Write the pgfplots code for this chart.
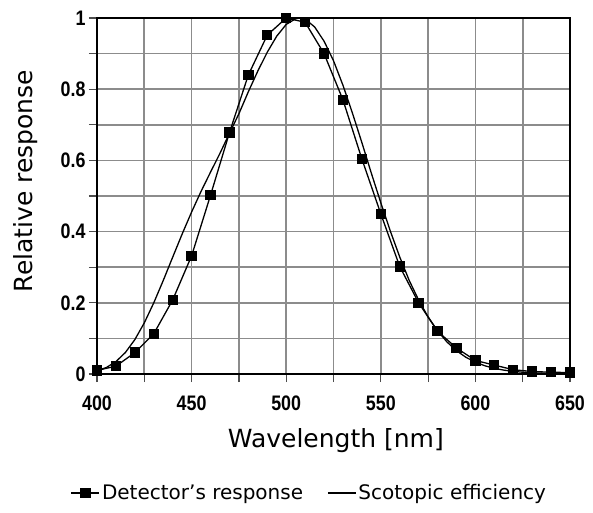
\documentclass[border=0pt]{standalone}
\usepackage{fontspec}
\setmainfont{DejaVu Sans}
\newfontfamily\tickfont{Liberation Sans Bold}[FakeStretch=0.85]
\usepackage{pgfplots}
\pgfplotsset{compat=1.18}
\begin{document}
\begin{tikzpicture}
\begin{axis}[
  name=ax,
  scale only axis, width=473bp, height=356bp,
  xmin=400, xmax=650, ymin=0, ymax=1,
  xtick={400,425,450,475,500,525,550,575,600,625,650},
  xticklabels={400,,450,,500,,550,,600,,650},
  ytick={0,0.1,0.2,0.3,0.4,0.5,0.6,0.7,0.8,0.9,1},
  yticklabels={0,,0.2,,0.4,,0.6,,0.8,,1},
  xtick pos=bottom, ytick pos=left,
  grid=major,
  major grid style={draw=black!45, line width=1.6bp},
  tick align=outside, major tick length=8bp,
  tick style={black!70, line width=1.2bp},
  axis line style={black, line width=1.8bp},
  ticklabel style={font=\tickfont\fontsize{21bp}{24bp}\selectfont},
  xticklabel style={yshift=-10bp},
  xlabel={Wavelength [nm]},
  ylabel={Relative response},
  label style={font=\fontsize{25bp}{30bp}\selectfont},
  xlabel style={at={(axis description cs:0.505,-0.188)}, anchor=center},
  ylabel style={at={(axis description cs:-0.152,0.542)}, anchor=center},
  legend style={at={(axis description cs:0.449,-0.334)}, anchor=center,
    draw=none, font=\fontsize{20bp}{24bp}\selectfont, legend columns=2,
    /tikz/every even column/.append style={column sep=22bp}},
  legend image code/.code={\draw[mark repeat=2, mark phase=2, #1] plot coordinates {(0bp,0bp) (14bp,0bp) (28bp,0bp)};},
  clip=false,
]
\addplot[black, line width=1.3bp, mark=square*, mark size=4.5bp, mark options={solid, fill=black}] coordinates {
(400,0.010) (410,0.022) (420,0.060) (430,0.113) (440,0.208) (450,0.332)
(460,0.502) (470,0.678) (480,0.840) (490,0.952) (500,1.000) (510,0.988)
(520,0.900) (530,0.770) (540,0.604) (550,0.450) (560,0.302) (570,0.200)
(580,0.120) (590,0.073) (600,0.038) (610,0.025) (620,0.012) (630,0.007)
(640,0.005) (650,0.004)
};
\addlegendentry{Detector's response}
\addplot[black, line width=1.3bp, mark=none] coordinates {
(400,0.0093) (405,0.0184) (410,0.0348) (415,0.0604) (420,0.0966) (425,0.1436)
(430,0.1998) (435,0.2625) (440,0.3281) (445,0.3931) (450,0.4550) (455,0.5130)
(460,0.5670) (465,0.6200) (470,0.6760) (475,0.7310) (480,0.7930) (485,0.8510)
(490,0.9040) (495,0.9490) (500,0.9820) (505,0.9980) (507,1.0000) (510,0.9970)
(515,0.9750) (520,0.9350) (525,0.8800) (530,0.8110) (535,0.7330) (540,0.6500)
(545,0.5640) (550,0.4810) (555,0.4020) (560,0.3288) (565,0.2630) (570,0.2076)
(575,0.1602) (580,0.1212) (585,0.0899) (590,0.0655) (595,0.0469) (600,0.0332)
(605,0.0231) (610,0.0159) (615,0.0109) (620,0.0074) (625,0.0050) (630,0.0033)
(640,0.0015) (650,0.0007)
};
\addlegendentry{Scotopic efficiency}
\end{axis}
\path ([xshift=-97bp,yshift=-139bp]ax.south west) rectangle ([xshift=23bp,yshift=18bp]ax.north east);
\end{tikzpicture}
\end{document}
